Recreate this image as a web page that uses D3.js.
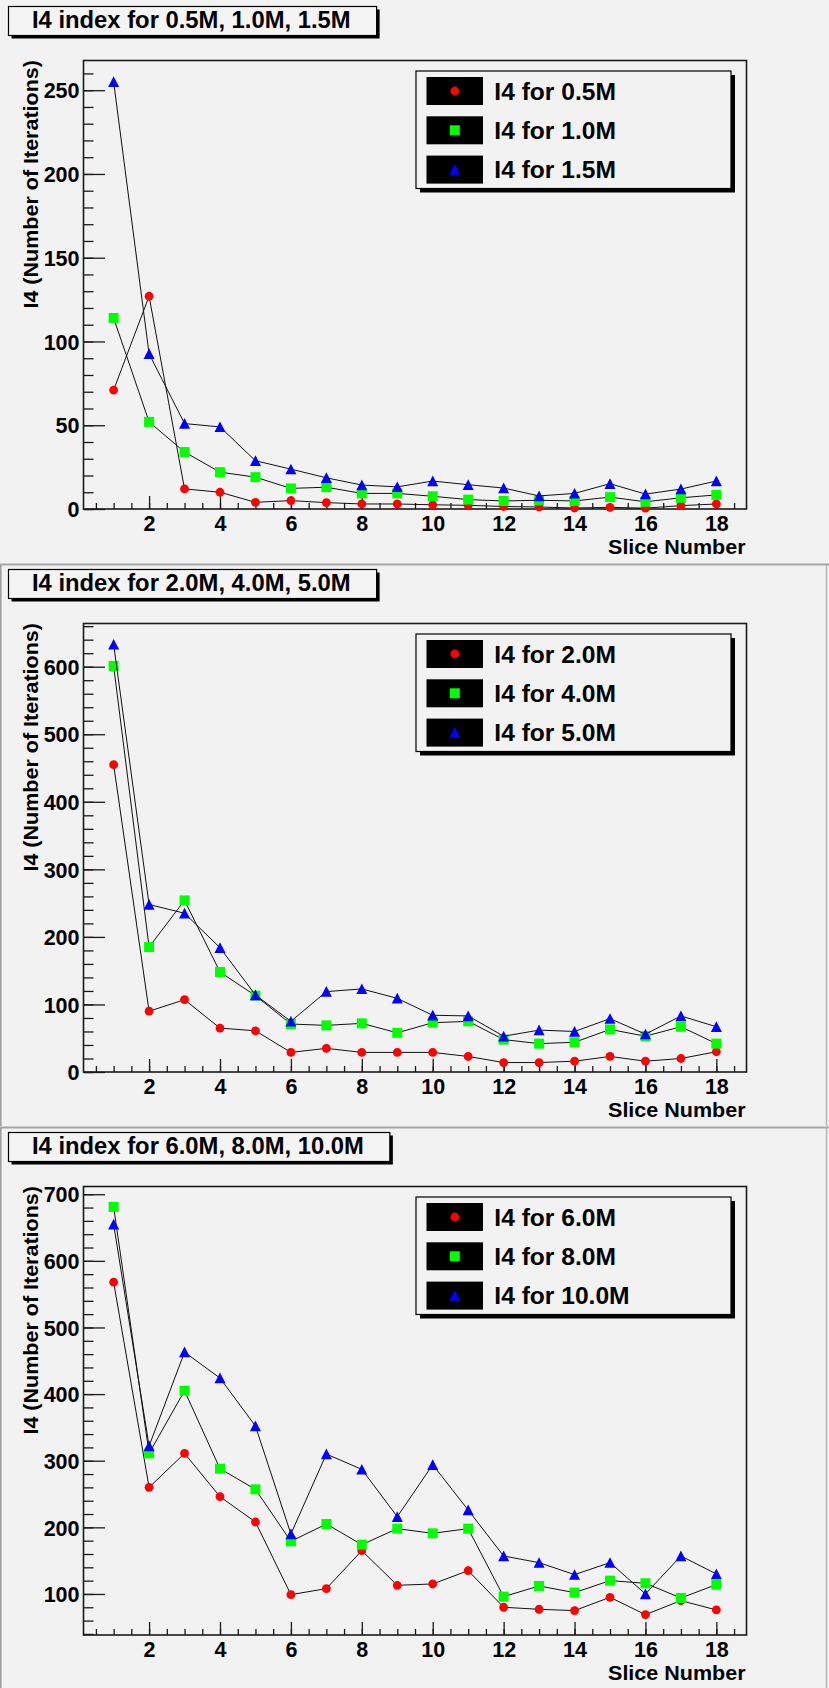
<!DOCTYPE html>
<html>
<head>
<meta charset="utf-8">
<script src="https://cdn.jsdelivr.net/npm/d3@7"></script>
<style>
  html, body { margin: 0; padding: 0; background: #f2f2f2; }
  svg { display: block; }
  text { font-family: "Liberation Sans", Arial, Helvetica, sans-serif; font-weight: bold; fill: #000; }
</style>
</head>
<body>
<svg id="chart" width="829" height="1688"></svg>
<script>
// ---- data ----------------------------------------------------------------
const slices = [1, 2, 3, 4, 5, 6, 7, 8, 9, 10, 11, 12, 13, 14, 15, 16, 17, 18];

const i4_0p5M = [71, 127, 12, 10, 4, 5, 3.8, 3, 3, 2.5, 2.2, 1.5, 1.2, 0.6, 1, 0.5, 2, 3];
const i4_1p0M = [114, 52, 34, 22, 19, 12.3, 13, 9.3, 9.3, 7.6, 5.6, 4.8, 5.2, 4.8, 7.1, 4.3, 6.7, 8.4];
const i4_1p5M = [255, 92.6, 51, 49, 28.8, 23.8, 18.6, 14.3, 13.2, 16.7, 14.5, 12.5, 7.8, 9.3, 15.1, 8.9, 11.9, 16.7];

const i4_2p0M = [455, 90, 107, 65, 61, 29, 35, 29, 29, 29, 23, 14, 14, 16, 23, 16, 20, 30];
const i4_4p0M = [601, 185, 254, 148, 113, 71, 69, 72, 58, 73, 75, 48, 42, 44, 63, 53, 67, 42];
const i4_5p0M = [633, 248, 235, 184, 114, 75, 119, 123, 109, 84, 83, 53, 62, 60, 79, 56, 83, 67];

const i4_6p0M = [568, 260, 311, 246, 208, 99, 108, 165, 113, 115, 135, 80, 77, 75, 95, 69, 90, 76];
const i4_8p0M = [681, 311, 405, 288, 257, 179, 205, 174, 198, 191, 198, 96, 112, 102, 120, 116, 94, 114];
const i4_10p0M = [655, 322, 463, 424, 352, 190, 310, 287, 216, 294, 226, 157, 147, 129, 147, 100, 157, 130];

const panelTitles = [
  "I4 index for 0.5M, 1.0M, 1.5M",
  "I4 index for 2.0M, 4.0M, 5.0M",
  "I4 index for 6.0M, 8.0M, 10.0M"
];
const legendLabels1 = ["I4 for 0.5M", "I4 for 1.0M", "I4 for 1.5M"];
const legendLabels2 = ["I4 for 2.0M", "I4 for 4.0M", "I4 for 5.0M"];
const legendLabels3 = ["I4 for 6.0M", "I4 for 8.0M", "I4 for 10.0M"];

const xAxisTitle = "Slice Number";
const yAxisTitle = "I4 (Number of Iterations)";

const panels = [
  { title: panelTitles[0], labels: legendLabels1, series: [i4_0p5M, i4_1p0M, i4_1p5M] },
  { title: panelTitles[1], labels: legendLabels2, series: [i4_2p0M, i4_4p0M, i4_5p0M] },
  { title: panelTitles[2], labels: legendLabels3, series: [i4_6p0M, i4_8p0M, i4_10p0M] }
];

// ---- styling / layout ----------------------------------------------------
const markerColors = ["#ff0000", "#00ff00", "#0000ff"];
const markerKinds = ["circle", "square", "triangle"];
const W = 829;
const panelTops = [0, 563, 1126];
const panelH = 563;
const frame = { left: 83.5, right: 746.5, top: 60.5, bottom: 509 };
const xDomain = [0.15, 18.85];

const svg = d3.select("#chart");

svg.append("rect").attr("x", 0).attr("y", 0).attr("width", W).attr("height", 1688).attr("fill", "#f2f2f2");

function markerPath(kind, cx, cy) {
  if (kind === "circle") {
    const r = 4.4;
    return `M${cx - r},${cy}a${r},${r} 0 1,0 ${2 * r},0a${r},${r} 0 1,0 ${-2 * r},0Z`;
  }
  if (kind === "square") {
    const h = 5;
    return `M${cx - h},${cy - h}H${cx + h}V${cy + h}H${cx - h}Z`;
  }
  const w = 5.5, h = 5.2;
  return `M${cx - w},${cy + h}L${cx + w},${cy + h}L${cx},${cy - h - 0.3}Z`;
}

panels.forEach((p, pi) => {
  const g = svg.append("g").attr("transform", `translate(0,${panelTops[pi]})`);

  // pad border
  if (pi > 0) {
    g.append("line").attr("x1", 0).attr("x2", W).attr("y1", 1.5).attr("y2", 1.5)
      .attr("stroke", "#a6a6a6").attr("stroke-width", 2);
    g.append("line").attr("x1", 826.5).attr("x2", 826.5).attr("y1", 2).attr("y2", panelH)
      .attr("stroke", "#b4b4b4").attr("stroke-width", 1.5);
    g.append("line").attr("x1", 0.8).attr("x2", 0.8).attr("y1", 2).attr("y2", panelH)
      .attr("stroke", "#9a9a9a").attr("stroke-width", 1.5);
  }

  // scales
  const all = p.series.flat();
  const lo = d3.min(all), hi = d3.max(all);
  const pad = 0.05 * (hi - lo);
  const y0 = (lo - pad < 0 && lo >= 0) ? 0 : lo - pad;
  const y = d3.scaleLinear().domain([y0, hi + pad]).range([frame.bottom, frame.top]);
  const x = d3.scaleLinear().domain(xDomain).range([frame.left, frame.right]);

  // frame
  g.append("rect").attr("x", frame.left).attr("y", frame.top)
    .attr("width", frame.right - frame.left).attr("height", frame.bottom - frame.top)
    .attr("fill", "#f2f2f2").attr("stroke", "#1a1a1a").attr("stroke-width", 1.6);

  // x axis: minor ticks, then major ticks with labels
  const xMinor = d3.axisBottom(x).tickValues(x.ticks(40)).tickSizeInner(-6).tickSizeOuter(0).tickFormat("");
  g.append("g").attr("transform", `translate(0,${frame.bottom})`).call(xMinor)
    .call(a => a.select(".domain").remove())
    .call(a => a.selectAll("line").attr("stroke", "#1a1a1a").attr("stroke-width", 1.3));
  const xMajor = d3.axisBottom(x).tickValues(x.ticks(10)).tickSizeInner(-13).tickSizeOuter(0).tickPadding(6.5);
  g.append("g").attr("transform", `translate(0,${frame.bottom})`).call(xMajor)
    .call(a => a.select(".domain").remove())
    .call(a => a.selectAll("line").attr("stroke", "#1a1a1a").attr("stroke-width", 1.3))
    .call(a => a.selectAll("text").attr("font-size", 21.5).attr("font-family", null).attr("fill", "#000"));

  // y axis
  const yMinor = d3.axisLeft(y).tickValues(y.ticks(30)).tickSizeInner(-10).tickSizeOuter(0).tickFormat("");
  g.append("g").attr("transform", `translate(${frame.left},0)`).call(yMinor)
    .call(a => a.select(".domain").remove())
    .call(a => a.selectAll("line").attr("stroke", "#1a1a1a").attr("stroke-width", 1.3));
  const yMajor = d3.axisLeft(y).tickValues(y.ticks(6)).tickSizeInner(-21.5).tickSizeOuter(0).tickPadding(4);
  g.append("g").attr("transform", `translate(${frame.left},0)`).call(yMajor)
    .call(a => a.select(".domain").remove())
    .call(a => a.selectAll("line").attr("stroke", "#1a1a1a").attr("stroke-width", 1.3))
    .call(a => a.selectAll("text").attr("font-size", 21.5).attr("font-family", null).attr("fill", "#000").attr("dy", "0.36em"));

  // axis titles
  g.append("text").attr("text-anchor", "end").attr("font-size", 20.5)
    .attr("transform", `translate(745.5,${frame.bottom + 45}) scale(1.05,1)`)
    .text(xAxisTitle);
  g.append("text").attr("text-anchor", "end").attr("font-size", 20.5)
    .attr("transform", `translate(37.5,${frame.top - 0.5}) rotate(-90) scale(1.05,1)`)
    .text(yAxisTitle);

  // series: connecting line then markers, in order
  const line = d3.line().x((d, i) => x(slices[i])).y(d => y(d));
  p.series.forEach((vals, si) => {
    g.append("path").attr("d", line(vals)).attr("fill", "none")
      .attr("stroke", "#111").attr("stroke-width", 1);
    g.append("g").selectAll("path").data(vals).join("path")
      .attr("d", (d, i) => markerPath(markerKinds[si], x(slices[i]), y(d)))
      .attr("fill", markerColors[si]);
  });

  // legend
  const L = { x: 416, y: 71, w: 315, h: 117.5 };
  g.append("rect").attr("x", L.x + 4).attr("y", L.y + 4).attr("width", L.w).attr("height", L.h).attr("fill", "#000");
  g.append("rect").attr("x", L.x).attr("y", L.y).attr("width", L.w).attr("height", L.h)
    .attr("fill", "#f2f2f2").attr("stroke", "#000").attr("stroke-width", 1.2);
  p.labels.forEach((lab, li) => {
    const top = L.y + 6 + li * 39.3;
    g.append("rect").attr("x", 426.5).attr("y", top).attr("width", 56.5).attr("height", 28).attr("fill", "#000");
    g.append("path").attr("d", markerPath(markerKinds[li], 454.8, top + 14)).attr("fill", markerColors[li]);
    g.append("text").attr("font-size", 23)
      .attr("transform", `translate(494.3,${top + 22.8}) scale(1.07,1)`)
      .text(lab);
  });

  // title box
  const tg = g.append("g");
  const tt = tg.append("text").attr("font-size", 23)
    .attr("transform", `translate(32,28.3) scale(1.035,1)`)
    .text(p.title);
  const tw = tt.node().getComputedTextLength() * 1.035;
  const bx = 8.5, by = 6.5, bw = (32 + tw + 26) - bx, bh = 29;
  tg.insert("rect", "text").attr("x", bx + 3).attr("y", by + 3).attr("width", bw).attr("height", bh).attr("fill", "#000");
  tg.insert("rect", "text").attr("x", bx).attr("y", by).attr("width", bw).attr("height", bh)
    .attr("fill", "#f4f4f4").attr("stroke", "#000").attr("stroke-width", 1.2);
});
</script>
</body>
</html>
